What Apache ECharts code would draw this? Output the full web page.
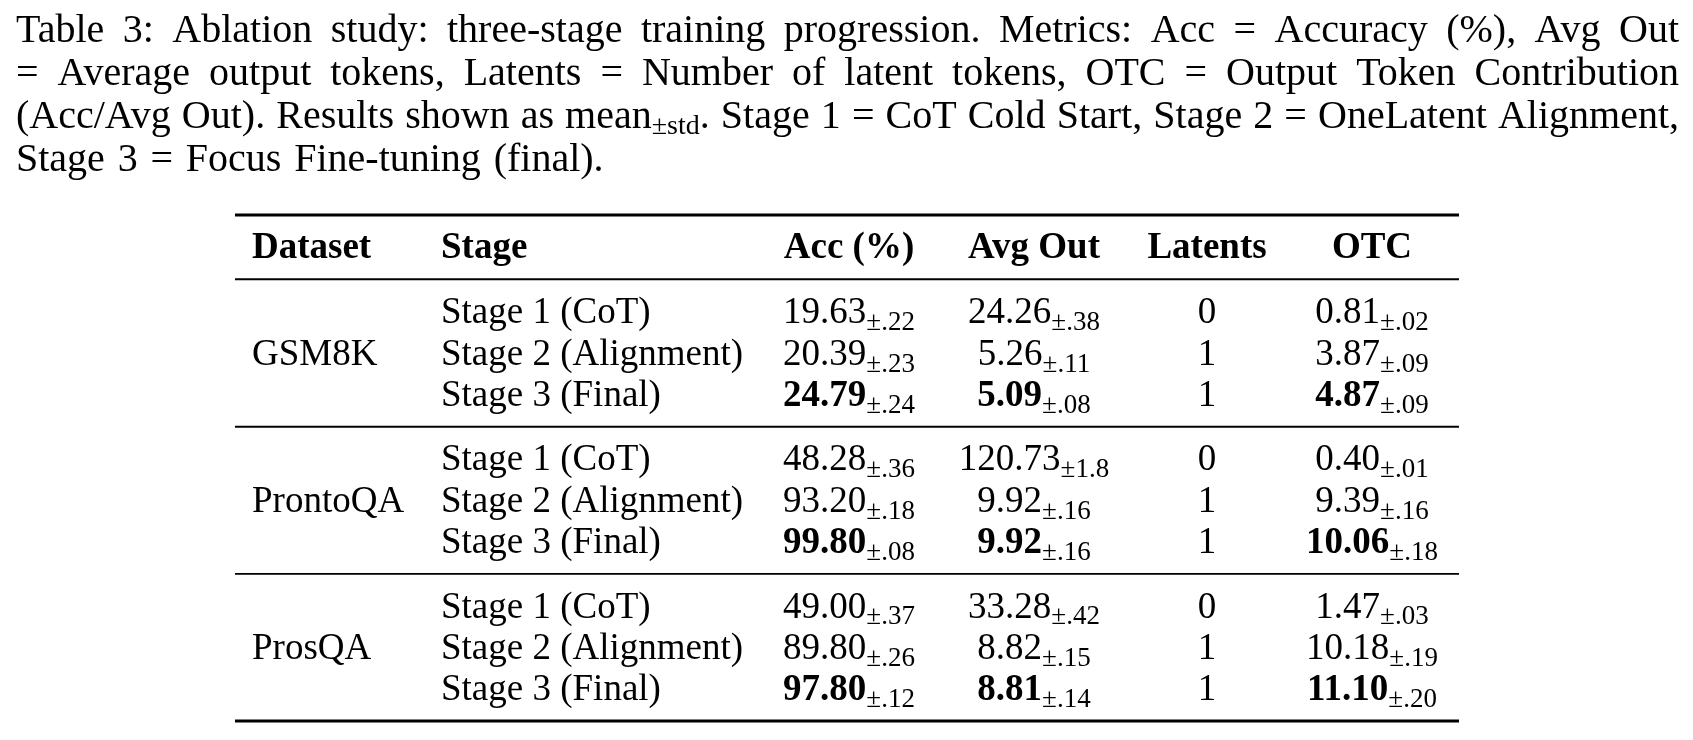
<!DOCTYPE html>
<html>
<head>
<meta charset="utf-8">
<script src="https://cdn.jsdelivr.net/npm/echarts@6/dist/echarts.min.js"></script>
<style>
  html, body { margin: 0; background: #fff; }
  #main { width: 1693px; height: 740px; }
</style>
</head>
<body>
<div id="main"></div>
<script>
// caption, one entry per printed line; _{...} marks a subscript
var captionLines = [
  'Table 3: Ablation study: three-stage training progression. Metrics: Acc = Accuracy (%), Avg Out',
  '= Average output tokens, Latents = Number of latent tokens, OTC = Output Token Contribution',
  '(Acc/Avg Out). Results shown as mean_{±std}. Stage 1 = CoT Cold Start, Stage 2 = OneLatent Alignment,',
  'Stage 3 = Focus Fine-tuning (final).'
];

var columns = ['Dataset', 'Stage', 'Acc (%)', 'Avg Out', 'Latents', 'OTC'];
var datasets = ['GSM8K', 'ProntoQA', 'ProsQA'];
var stages = ['Stage 1 (CoT)', 'Stage 2 (Alignment)', 'Stage 3 (Final)'];

// rows: GSM8K x3, ProntoQA x3, ProsQA x3
var accMean = ['19.63', '20.39', '24.79', '48.28', '93.20', '99.80', '49.00', '89.80', '97.80'];
var accStd  = ['.22', '.23', '.24', '.36', '.18', '.08', '.37', '.26', '.12'];
var outMean = ['24.26', '5.26', '5.09', '120.73', '9.92', '9.92', '33.28', '8.82', '8.81'];
var outStd  = ['.38', '.11', '.08', '1.8', '.16', '.16', '.42', '.15', '.14'];
var latents = ['0', '1', '1', '0', '1', '1', '0', '1', '1'];
var otcMean = ['0.81', '3.87', '4.87', '0.40', '9.39', '10.06', '1.47', '10.18', '11.10'];
var otcStd  = ['.02', '.09', '.09', '.01', '.16', '.18', '.03', '.19', '.20'];
var bestStage = 2; // final stage is set in bold

// layout
var FONT = '"Liberation Serif", "Times New Roman", serif';
var SIZE = 37, SUB = 27, SUB_DROP = 6, TEXT_NUDGE = 2.5;
var CAP_SIZE = 40, CAP_SUB = 28;
var colX = [252, 441, 849, 1034, 1207, 1372];
var colAlign = ['left', 'left', 'center', 'center', 'center', 'center'];
var ruleX = [235, 1459];

var ctx = document.createElement('canvas').getContext('2d');
function fontOf(size, bold) { return (bold ? 'bold ' : '') + size + 'px ' + FONT; }
function textWidth(t, size, bold) { ctx.font = fontOf(size, bold); return ctx.measureText(t).width; }
// middle of a small run so its baseline sits `drop` below the main baseline
function subOffset(big, small, drop) { return 0.3375 * (big - small) + drop; }

function rowY(g, s) { return 1.57 + g * 3.55 + s; }

var cells = [];
columns.forEach(function (c, i) {
  cells.push({ col: i, y: 0, main: c, sub: '', bold: true });
});
datasets.forEach(function (d, g) {
  cells.push({ col: 0, y: rowY(g, 1), main: d, sub: '', bold: false });
  stages.forEach(function (st, s) {
    var k = g * 3 + s, best = s === bestStage;
    var y = rowY(g, s);
    cells.push({ col: 1, y: y, main: st, sub: '', bold: false });
    cells.push({ col: 2, y: y, main: accMean[k], sub: '±' + accStd[k], bold: best });
    cells.push({ col: 3, y: y, main: outMean[k], sub: '±' + outStd[k], bold: best });
    cells.push({ col: 4, y: y, main: latents[k], sub: '', bold: false });
    cells.push({ col: 5, y: y, main: otcMean[k], sub: '±' + otcStd[k], bold: best });
  });
});

var rules = [{ y: -0.75, w: 3 }, { y: 0.8, w: 1.8 }];
datasets.forEach(function (d, g) {
  rules.push({ y: rowY(g, 2) + 0.79, w: g === datasets.length - 1 ? 3 : 1.8 });
});

function renderCell(params, api) {
  var c = cells[params.dataIndex];
  var p = api.coord([api.value(0), api.value(1)]);
  var y = p[1] + TEXT_NUDGE;
  var wMain = textWidth(c.main, SIZE, c.bold);
  var wSub = c.sub ? textWidth(c.sub, SUB, false) : 0;
  var x0 = colAlign[c.col] === 'left' ? p[0] : p[0] - (wMain + wSub) / 2;
  var children = [{
    type: 'text',
    style: { x: x0, y: y, text: c.main, font: fontOf(SIZE, c.bold), fill: '#000', align: 'left', verticalAlign: 'middle' }
  }];
  if (c.sub) {
    children.push({
      type: 'text',
      style: { x: x0 + wMain, y: y + subOffset(SIZE, SUB, SUB_DROP), text: c.sub, font: fontOf(SUB, false), fill: '#000', align: 'left', verticalAlign: 'middle' }
    });
  }
  return { type: 'group', children: children };
}

function renderRule(params, api) {
  var a = api.coord([api.value(0), api.value(1)]);
  var b = api.coord([api.value(2), api.value(1)]);
  return {
    type: 'line',
    shape: { x1: a[0], y1: a[1], x2: b[0], y2: b[1] },
    style: { stroke: '#000', lineWidth: api.value(3) }
  };
}

// caption: justified lines built word by word
function parseWord(w) {
  var segs = [], re = /_\{(.*?)\}/g, last = 0, m;
  while ((m = re.exec(w))) {
    if (m.index > last) segs.push({ t: w.slice(last, m.index), sub: false });
    segs.push({ t: m[1], sub: true });
    last = re.lastIndex;
  }
  if (last < w.length) segs.push({ t: w.slice(last), sub: false });
  segs.forEach(function (s) { s.w = textWidth(s.t, s.sub ? CAP_SUB : CAP_SIZE, false); });
  return segs;
}

var capLeft = 16, capRight = 1679, capTop = 31, capStep = 43;
var captionGraphics = [];
captionLines.forEach(function (line, li) {
  var words = line.split(' ').map(parseWord);
  var widths = words.map(function (ws) { return ws.reduce(function (a, s) { return a + s.w; }, 0); });
  var total = widths.reduce(function (a, b) { return a + b; }, 0);
  var last = li === captionLines.length - 1;
  var gap = last ? 0.32 * CAP_SIZE : (capRight - capLeft - total) / (words.length - 1);
  var x = capLeft, y = capTop + li * capStep;
  words.forEach(function (ws) {
    ws.forEach(function (s) {
      captionGraphics.push({
        type: 'text',
        x: x, y: s.sub ? y + subOffset(CAP_SIZE, CAP_SUB, SUB_DROP) : y,
        style: { text: s.t, font: fontOf(s.sub ? CAP_SUB : CAP_SIZE, false), fill: '#000', align: 'left', verticalAlign: 'middle' }
      });
      x += s.w;
    });
    x += gap;
  });
});

var chart = echarts.init(document.getElementById('main'), null, { renderer: 'canvas' });
chart.setOption({
  animation: false,
  backgroundColor: '#fff',
  grid: { left: 0, right: 0, top: 215, bottom: 740 - 721 },
  xAxis: { type: 'value', min: 0, max: 1693, show: false },
  yAxis: { type: 'value', min: -0.75, max: rowY(2, 2) + 0.79, inverse: true, show: false },
  graphic: captionGraphics,
  series: [
    {
      type: 'custom',
      renderItem: renderRule,
      data: rules.map(function (r) { return [ruleX[0], r.y, ruleX[1], r.w]; }),
      silent: true
    },
    {
      type: 'custom',
      renderItem: renderCell,
      data: cells.map(function (c) { return [colX[c.col], c.y]; }),
      silent: true
    }
  ]
});
</script>
</body>
</html>
